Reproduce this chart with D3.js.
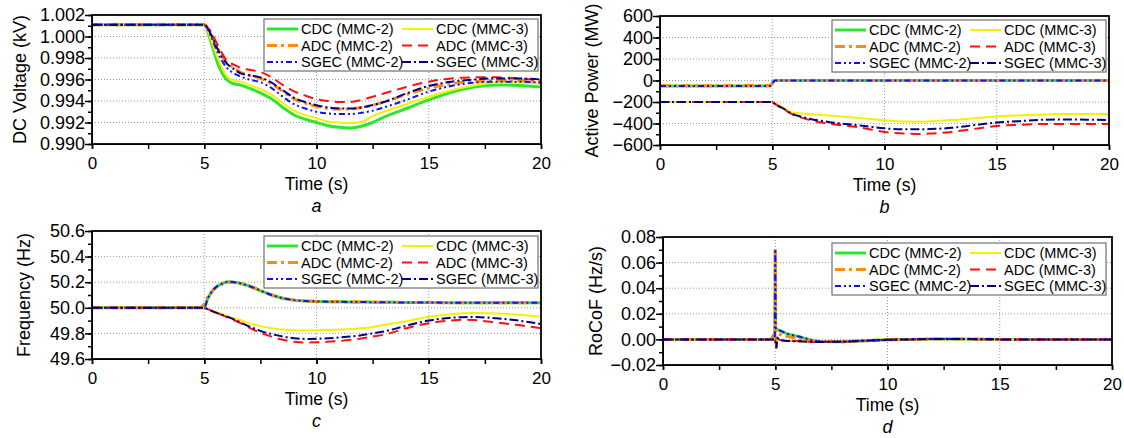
<!DOCTYPE html>
<html>
<head>
<meta charset="utf-8">
<script src="https://cdn.jsdelivr.net/npm/d3@7"></script>
<style>
  body { margin: 0; background: #fff; }
  svg { font-family: "Liberation Sans", Arial, sans-serif; }
</style>
</head>
<body>
<div id="chart"></div>
<script>
// ---- data ----
const seriesNames = ['CDC (MMC-2)', 'CDC (MMC-3)', 'ADC (MMC-2)', 'ADC (MMC-3)', 'SGEC (MMC-2)', 'SGEC (MMC-3)'];

// a: DC voltage
const voltTime = [0, 5, 5.3, 5.6, 6, 6.3, 6.6, 7, 7.5, 8, 8.5, 9, 9.5, 10, 10.5, 11, 11.5, 12, 12.5, 13, 14, 15, 16, 17, 18, 19, 20];
const voltCdc2 = [1.0011, 1.0011, 0.9995, 0.9975, 0.9960, 0.9956, 0.9955, 0.9952, 0.99475, 0.9942, 0.9934, 0.9927, 0.9923, 0.9920, 0.9917, 0.99155, 0.9915, 0.99165, 0.9920, 0.9925, 0.9933, 0.9941, 0.9948, 0.9953, 0.9955, 0.99545, 0.9953];
const voltCdc3 = [1.0011, 1.0011, 0.9997, 0.9980, 0.9963, 0.9959, 0.9958, 0.9955, 0.9951, 0.9946, 0.9938, 0.9931, 0.9927, 0.9924, 0.9921, 0.9920, 0.99195, 0.99205, 0.9926, 0.9930, 0.9937, 0.9944, 0.9950, 0.99545, 0.9957, 0.9957, 0.9956];
const voltAdc2 = [1.0011, 1.0011, 1.0003, 0.9989, 0.9976, 0.9971, 0.9967, 0.9964, 0.9961, 0.9956, 0.9949, 0.9942, 0.9938, 0.9935, 0.9933, 0.99325, 0.99325, 0.9934, 0.9936, 0.9939, 0.9946, 0.9952, 0.9956, 0.9958, 0.9959, 0.9959, 0.9958];
const voltAdc3 = [1.0011, 1.0011, 1.0004, 0.9992, 0.9978, 0.9974, 0.9971, 0.9969, 0.9967, 0.9962, 0.99549, 0.9949, 0.9945, 0.99416, 0.9940, 0.9939, 0.9939, 0.9941, 0.9944, 0.9947, 0.9953, 0.9958, 0.9961, 0.9962, 0.9962, 0.9961, 0.9959];
const voltSgec2 = [1.0011, 1.0011, 1.0000, 0.9985, 0.9971, 0.9966, 0.9963, 0.9960, 0.99575, 0.9952, 0.9944, 0.9937, 0.9933, 0.9930, 0.99285, 0.99278, 0.99278, 0.9929, 0.9931, 0.9934, 0.9941, 0.99487, 0.9954, 0.9957, 0.9958, 0.9958, 0.9957];
const voltSgec3 = [1.0011, 1.0011, 1.0002, 0.9988, 0.9975, 0.9970, 0.9966, 0.9964, 0.9962, 0.9957, 0.9950, 0.9943, 0.9939, 0.9936, 0.9934, 0.9933, 0.9933, 0.9934, 0.99363, 0.9939, 0.9947, 0.9954, 0.9958, 0.9960, 0.9961, 0.9961, 0.9960];
const voltTicks = [0.990, 0.992, 0.994, 0.996, 0.998, 1.000, 1.002];

// b: active power
const powerTime = [0, 4.9, 5, 5.1, 5.5, 5.9, 6.3, 6.8, 7.5, 8, 9, 10, 11, 11.5, 12, 13, 14, 15, 16, 17, 18, 19, 20];
const powerCdc2 = [-50, -50, -30, 0, 0, 0, 0, 0, 0, 0, 0, 0, 0, 0, 0, 0, 0, 0, 0, 0, 0, 0, 0];
const powerCdc3 = [-200, -200, -200, -210, -250, -298, -306, -314, -325, -334, -350, -370, -382, -383, -380, -368, -352, -336, -325, -316, -312, -311, -311];
const powerAdc2 = [-50, -45, -25, 0, 0, 0, 0, 0, 0, 0, 0, 0, 0, 0, 0, 0, 0, 0, 0, 0, 0, 0, 0];
const powerAdc3 = [-200, -200, -200, -215, -265, -315, -345, -375, -400, -413, -440, -478, -495, -497, -494, -478, -450, -423, -412, -405, -404, -404, -404];
const powerSgec2 = [-50, -50, -30, 0, 0, 0, 0, 0, 0, 0, 0, 0, 0, 0, 0, 0, 0, 0, 0, 0, 0, 0, 0];
const powerSgec3 = [-200, -200, -200, -214, -262, -312, -338, -362, -385, -398, -420, -445, -454, -454, -452, -440, -415, -391, -378, -366, -362, -364, -367];
const powerTicks = [-600, -400, -200, 0, 200, 400, 600];

// c: frequency
const freqTime = [0, 4.8, 5, 5.15, 5.4, 5.8, 6.1, 6.5, 7, 7.5, 8, 8.5, 9, 9.5, 10, 11, 12, 12.5, 13, 14, 15, 16, 16.5, 17, 17.5, 18, 19, 20];
const freqCdc2 = [50, 50, 50, 50.07, 50.14, 50.19, 50.204, 50.195, 50.17, 50.135, 50.1, 50.075, 50.06, 50.053, 50.05, 50.047, 50.045, 50.044, 50.043, 50.042, 50.041, 50.04, 50.04, 50.04, 50.04, 50.04, 50.04, 50.04];
const freqCdc3 = [50, 50, 50, 49.99, 49.975, 49.95, 49.93, 49.91, 49.88, 49.857, 49.84, 49.83, 49.825, 49.823, 49.825, 49.83, 49.84, 49.85, 49.865, 49.895, 49.93, 49.95, 49.957, 49.96, 49.958, 49.955, 49.945, 49.93];
const freqAdc2 = [50, 50, 50.03, 50.08, 50.14, 50.185, 50.2, 50.195, 50.17, 50.135, 50.1, 50.075, 50.06, 50.053, 50.05, 50.047, 50.045, 50.044, 50.043, 50.042, 50.041, 50.04, 50.04, 50.04, 50.04, 50.04, 50.04, 50.04];
const freqAdc3 = [50, 50, 50, 49.99, 49.97, 49.943, 49.92, 49.89, 49.845, 49.805, 49.775, 49.75, 49.735, 49.728, 49.73, 49.74, 49.76, 49.775, 49.79, 49.84, 49.88, 49.9, 49.906, 49.905, 49.895, 49.885, 49.865, 49.84];
const freqSgec2 = [50, 50, 50, 50.07, 50.14, 50.19, 50.204, 50.195, 50.17, 50.135, 50.1, 50.075, 50.06, 50.053, 50.05, 50.047, 50.045, 50.044, 50.043, 50.042, 50.041, 50.04, 50.04, 50.04, 50.04, 50.04, 50.04, 50.04];
const freqSgec3 = [50, 50, 50, 49.99, 49.97, 49.945, 49.925, 49.895, 49.855, 49.82, 49.795, 49.775, 49.762, 49.757, 49.758, 49.768, 49.785, 49.8, 49.815, 49.86, 49.9, 49.922, 49.927, 49.928, 49.925, 49.918, 49.9, 49.873];
const freqTicks = [49.6, 49.8, 50.0, 50.2, 50.4, 50.6];

// d: RoCoF
const rocofTime = [0, 4.8, 4.95, 4.98, 5.0, 5.02, 5.05, 5.1, 5.2, 5.5, 6.1, 6.7, 7, 8, 9, 10, 11, 12, 13, 14, 15, 16, 17, 18, 19, 20];
const rocofCdc2 = [0, 0, 0, 0, 0.0705, 0.009, 0.008, 0.0075, 0.007, 0.0045, 0.002, -0.001, -0.0017, -0.0018, -0.001, -0.0003, 0, 0.0003, 0.0004, 0.0002, 0, 0, 0, 0, 0, 0];
const rocofCdc3 = [0, 0, 0, 0, 0, -0.001, -0.004, 0.001, 0, -0.001, -0.0015, -0.002, -0.002, -0.0018, -0.001, -0.0003, 0, 0.0003, 0.0004, 0.0002, 0, 0, 0, 0, 0, 0];
const rocofAdc2 = [0, 0, 0.004, 0.004, 0.0705, 0.005, 0.005, 0.005, 0.004, 0.0025, 0.0005, -0.001, -0.0017, -0.0018, -0.001, -0.0003, 0, 0.0003, 0.0004, 0.0002, 0, 0, 0, 0, 0, 0];
const rocofAdc3 = [0, 0, 0, 0, 0, -0.003, -0.006, 0.001, -0.0005, -0.0012, -0.0015, -0.002, -0.002, -0.0018, -0.001, -0.0003, 0, 0.0003, 0.0004, 0.0002, 0, 0, 0, 0, 0, 0];
const rocofSgec2 = [0, 0, 0, 0, 0.0705, 0.009, 0.008, 0.0075, 0.007, 0.0045, 0.002, -0.001, -0.0017, -0.0018, -0.001, -0.0003, 0, 0.0003, 0.0004, 0.0002, 0, 0, 0, 0, 0, 0];
const rocofSgec3 = [0, 0, 0, 0, 0, -0.003, -0.007, 0.001, -0.0005, -0.0012, -0.0015, -0.002, -0.002, -0.0018, -0.001, -0.0003, 0, 0.0003, 0.0004, 0.0002, 0, 0, 0, 0, 0, 0];
const rocofTicks = [-0.02, 0.00, 0.02, 0.04, 0.06, 0.08];

const timeTicks = [0, 5, 10, 15, 20];

// ---- styles ----
const styles = [
  { color: '#2ee62e', width: 3, dash: null },          // CDC (MMC-2)
  { color: '#f5f000', width: 2, dash: null },          // CDC (MMC-3)
  { color: '#ff8a10', width: 3, dash: '10,4,3,4' },    // ADC (MMC-2)
  { color: '#ff1010', width: 2, dash: '10,6' },        // ADC (MMC-3)
  { color: '#1010ff', width: 2, dash: '6,3,2,3,2,3' }, // SGEC (MMC-2)
  { color: '#000080', width: 2, dash: '9,3,2,3' },     // SGEC (MMC-3)
];

const panels = [
  { left: 92, right: 541, top: 15, bottom: 144, time: voltTime,
    series: [voltCdc2, voltCdc3, voltAdc2, voltAdc3, voltSgec2, voltSgec3],
    domain: [0.990, 1.002], ticks: voltTicks, minor: 0.001, fmt: d3.format('.3f'),
    title: 'DC Voltage (kV)', titleX: 20, letter: 'a', legend: [264, 19], curve: d3.curveMonotoneX },
  { left: 660, right: 1109, top: 16, bottom: 145, time: powerTime,
    series: [powerCdc2, powerCdc3, powerAdc2, powerAdc3, powerSgec2, powerSgec3],
    domain: [-600, 600], ticks: powerTicks, minor: 100, fmt: d3.format('d'),
    title: 'Active Power (MW)', titleX: 592, letter: 'b', legend: [832, 20], curve: d3.curveMonotoneX },
  { left: 92, right: 541, top: 231, bottom: 359, time: freqTime,
    series: [freqCdc2, freqCdc3, freqAdc2, freqAdc3, freqSgec2, freqSgec3],
    domain: [49.6, 50.6], ticks: freqTicks, minor: 0.1, fmt: d3.format('.1f'),
    title: 'Frequency (Hz)', titleX: 24, letter: 'c', legend: [264, 236], curve: d3.curveMonotoneX },
  { left: 663, right: 1112, top: 237, bottom: 365, time: rocofTime,
    series: [rocofCdc2, rocofCdc3, rocofAdc2, rocofAdc3, rocofSgec2, rocofSgec3],
    domain: [-0.02, 0.08], ticks: rocofTicks, minor: 0.01, fmt: d3.format('.2f'),
    title: 'RoCoF (Hz/s)', titleX: 596, letter: 'd', legend: [832, 243], curve: d3.curveLinear },
];

const width = 1124;
const height = 438;

const svg = d3.select('#chart')
  .append('svg')
  .attr('width', width)
  .attr('height', height);

panels.forEach((p, pi) => {
  const xScale = d3.scaleLinear().domain([0, 20]).range([p.left, p.right]);
  const yScale = d3.scaleLinear().domain(p.domain).range([p.bottom, p.top]);
  const g = svg.append('g');

  // grid
  const grid = g.append('g').attr('stroke', '#9a9a9a').attr('stroke-dasharray', '1,2').attr('stroke-width', 1);
  grid.selectAll('.gy').data(p.ticks.slice(1, -1)).enter().append('line')
    .attr('x1', p.left).attr('x2', p.right)
    .attr('y1', (d) => yScale(d)).attr('y2', (d) => yScale(d));
  grid.selectAll('.gx').data(timeTicks.slice(1, -1)).enter().append('line')
    .attr('y1', p.top).attr('y2', p.bottom)
    .attr('x1', (d) => xScale(d)).attr('x2', (d) => xScale(d));

  // lines
  const clipId = `clip${pi}`;
  svg.append('clipPath').attr('id', clipId).append('rect')
    .attr('x', p.left).attr('y', p.top - 2)
    .attr('width', p.right - p.left).attr('height', p.bottom - p.top + 4);

  const line = d3.line()
    .x((d) => xScale(d[0]))
    .y((d) => yScale(d[1]))
    .curve(p.curve);

  const lines = g.append('g').attr('clip-path', `url(#${clipId})`);
  p.series.forEach((vals, si) => {
    const pts = p.time.map((t, i) => [t, vals[i]]);
    lines.append('path')
      .attr('d', line(pts))
      .attr('fill', 'none')
      .attr('stroke', styles[si].color)
      .attr('stroke-width', styles[si].width)
      .attr('stroke-dasharray', styles[si].dash);
  });

  // axes
  const minorY = d3.range(p.domain[0], p.domain[1] + p.minor / 2, p.minor);
  g.append('g').attr('transform', `translate(${p.left},0)`)
    .call(d3.axisLeft(yScale).tickValues(minorY).tickSize(4).tickFormat(''))
    .call((a) => a.select('.domain').remove());
  const yAxis = g.append('g').attr('transform', `translate(${p.left},0)`)
    .call(d3.axisLeft(yScale).tickValues(p.ticks).tickSize(7).tickSizeOuter(0).tickPadding(0).tickFormat(p.fmt));
  yAxis.selectAll('text').attr('font-size', 18).attr('fill', '#000');

  g.append('g').attr('transform', `translate(0,${p.bottom})`)
    .call(d3.axisBottom(xScale).tickValues(d3.range(0, 20.1, 2.5)).tickSize(5).tickFormat(''))
    .call((a) => a.select('.domain').remove());
  const xAxis = g.append('g').attr('transform', `translate(0,${p.bottom})`)
    .call(d3.axisBottom(xScale).tickValues(timeTicks).tickSize(5).tickSizeOuter(0).tickPadding(8).tickFormat(d3.format('d')));
  xAxis.selectAll('text').attr('font-size', 17).attr('fill', '#000');
  g.selectAll('.tick line').attr('stroke-width', 1.5);

  // frame
  g.append('rect')
    .attr('x', p.left).attr('y', p.top)
    .attr('width', p.right - p.left).attr('height', p.bottom - p.top)
    .attr('fill', 'none').attr('stroke', '#000').attr('stroke-width', 1.8);

  // titles
  const cx = (p.left + p.right) / 2;
  g.append('text')
    .attr('x', cx).attr('y', p.bottom + 46)
    .attr('text-anchor', 'middle').attr('font-size', 17.5)
    .text('Time (s)');
  g.append('text')
    .attr('x', cx).attr('y', p.bottom + 68)
    .attr('text-anchor', 'middle').attr('font-size', 18).attr('font-style', 'italic')
    .text(p.letter);
  g.append('text')
    .attr('transform', `translate(${p.titleX},${(p.top + p.bottom) / 2}) rotate(-90)`)
    .attr('text-anchor', 'middle').attr('dy', '0.35em').attr('font-size', 18)
    .text(p.title);

  // legend
  const [lx, ly] = p.legend;
  const leg = g.append('g').attr('transform', `translate(${lx},${ly})`);
  leg.append('rect')
    .attr('width', 274).attr('height', 52)
    .attr('fill', '#fff').attr('stroke', '#707070').attr('stroke-width', 1.2);
  seriesNames.forEach((name, si) => {
    const col = si % 2;
    const row = Math.floor(si / 2);
    const x0 = col === 0 ? 3 : 138;
    const yy = 10 + row * 16.5;
    leg.append('line')
      .attr('x1', x0).attr('x2', x0 + 31)
      .attr('y1', yy).attr('y2', yy)
      .attr('stroke', styles[si].color)
      .attr('stroke-width', styles[si].width)
      .attr('stroke-dasharray', styles[si].dash);
    leg.append('text')
      .attr('x', x0 + 34).attr('y', yy).attr('dy', '0.35em')
      .attr('font-size', 14.5)
      .text(name);
  });
});
</script>
</body>
</html>
